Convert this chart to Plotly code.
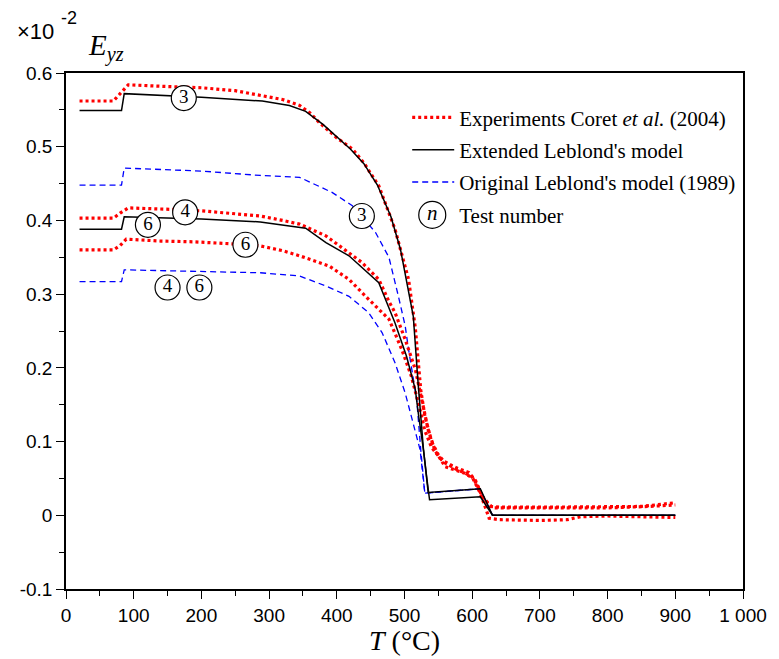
import plotly.graph_objects as go

# ---------------- data ----------------
T_exp3 = [20, 70, 80, 92, 140, 200, 250, 287, 320, 345, 360, 374, 400, 423, 440, 462, 486, 506, 516, 524, 530,
          540, 550, 560, 575, 590, 600, 608, 618, 628, 640, 700, 760, 800, 850, 880, 900]
E_exp3 = [0.562, 0.562, 0.572, 0.584, 0.582, 0.580, 0.576, 0.570, 0.564, 0.556, 0.546, 0.533, 0.512, 0.497,
          0.478, 0.447, 0.388, 0.320, 0.254, 0.170, 0.135, 0.100, 0.082, 0.071, 0.063, 0.057, 0.052, 0.040,
          0.020, 0.012, 0.011, 0.011, 0.011, 0.011, 0.012, 0.015, 0.017]

T_exp4 = [20, 70, 80, 92, 155, 200, 250, 287, 320, 345, 384, 423, 437, 462, 477, 486, 501, 516, 525, 535,
          545, 560, 589, 601, 612, 625, 640, 700, 740, 760, 800, 900]
E_exp4 = [0.403, 0.403, 0.410, 0.417, 0.415, 0.413, 0.409, 0.406, 0.400, 0.395, 0.379, 0.352, 0.343, 0.320,
          0.290, 0.275, 0.2385, 0.198, 0.157, 0.116, 0.088, 0.066, 0.057, 0.050, 0.030, -0.004, -0.006,
          -0.007, -0.006, -0.002, -0.001, -0.003]

T_exp6 = [20, 70, 80, 89, 140, 189, 250, 287, 320, 345, 389, 418, 447, 477, 496, 510, 523, 530, 540, 555,
          575, 595, 605, 615, 630, 700, 800, 860, 900]
E_exp6 = [0.360, 0.360, 0.366, 0.3746, 0.372, 0.371, 0.368, 0.3655, 0.359, 0.352, 0.338, 0.320, 0.293,
          0.266, 0.225, 0.189, 0.143, 0.115, 0.092, 0.075, 0.065, 0.058, 0.047, 0.025, 0.010, 0.010, 0.010,
          0.012, 0.014]

T_mod3 = [20, 82, 86, 200, 290, 330, 354, 380, 420, 440, 460, 480, 494, 505, 513, 520, 528, 533, 537, 612, 630, 900]
E_mod3 = [0.549, 0.549, 0.572, 0.567, 0.562, 0.556, 0.548, 0.530, 0.497, 0.477, 0.448, 0.405, 0.361, 0.310,
          0.270, 0.180, 0.089, 0.050, 0.021, 0.025, 0.0, 0.0]

T_mod46 = [20, 82, 86, 200, 287, 354, 384, 418, 462, 486, 503, 516, 521, 528, 535, 612, 630, 900]
E_mod46 = [0.388, 0.388, 0.405, 0.402, 0.398, 0.3895, 0.370, 0.352, 0.3156, 0.261, 0.2158, 0.1705, 0.134,
           0.089, 0.031, 0.036, 0.0, 0.0]

T_orig3 = [20, 82, 86, 200, 287, 345, 393, 423, 457, 477, 491, 501, 506, 518, 524, 530, 611, 630, 900]
E_orig3 = [0.448, 0.448, 0.471, 0.467, 0.461, 0.4585, 0.438, 0.420, 0.384, 0.350, 0.297, 0.257, 0.225,
           0.157, 0.089, 0.030, 0.036, 0.0, 0.0]

T_orig46 = [20, 82, 86, 200, 287, 345, 384, 418, 447, 467, 486, 501, 513, 523, 530, 611, 630, 900]
E_orig46 = [0.317, 0.317, 0.333, 0.331, 0.329, 0.3246, 0.311, 0.297, 0.275, 0.2476, 0.2068, 0.166, 0.125,
            0.089, 0.030, 0.036, 0.0, 0.0]

label_T = [174, 437, 176, 121, 265, 150, 197]
label_E = [0.566, 0.406, 0.411, 0.394, 0.367, 0.309, 0.309]
label_text = ["3", "3", "4", "6", "6", "4", "6"]

x_tickvals = [0, 100, 200, 300, 400, 500, 600, 700, 800, 900, 1000]
x_ticktext = ["0", "100", "200", "300", "400", "500", "600", "700", "800", "900", "1 000"]
y_tickvals = [-0.1, 0, 0.1, 0.2, 0.3, 0.4, 0.5, 0.6]
y_ticktext = ["-0.1", "0", "0.1", "0.2", "0.3", "0.4", "0.5", "0.6"]

SERIF = "Liberation Serif"
SANS = "Liberation Sans"
RED = "#ff0000"
BLUE = "#0000ff"

fig = go.Figure()

exp_style = dict(color=RED, width=3.2, dash="3px,3px")
mod_style = dict(color="black", width=1.5)
orig_style = dict(color=BLUE, width=1.3, dash="6px,4px")

# original Leblond (blue dashed)
fig.add_trace(go.Scatter(x=T_orig46, y=E_orig46, mode="lines", line=orig_style, showlegend=False, hoverinfo="skip"))
fig.add_trace(go.Scatter(x=T_orig3, y=E_orig3, mode="lines", line=orig_style, showlegend=False, hoverinfo="skip"))
# experiments (red dotted)
fig.add_trace(go.Scatter(x=T_exp6, y=E_exp6, mode="lines", line=exp_style, showlegend=False, hoverinfo="skip"))
fig.add_trace(go.Scatter(x=T_exp4, y=E_exp4, mode="lines", line=exp_style, showlegend=False, hoverinfo="skip"))
fig.add_trace(go.Scatter(x=T_exp3, y=E_exp3, mode="lines", line=exp_style, legendgroup="g1",
                         name="Experiments Coret <i>et al.</i> (2004)", legendrank=1))
# extended Leblond (black)
fig.add_trace(go.Scatter(x=T_mod46, y=E_mod46, mode="lines", line=mod_style, showlegend=False, hoverinfo="skip"))
fig.add_trace(go.Scatter(x=T_mod3, y=E_mod3, mode="lines", line=mod_style, legendgroup="g2",
                         name="Extended Leblond's model", legendrank=2))
# legend entry for original
fig.add_trace(go.Scatter(x=[None], y=[None], mode="lines", line=orig_style, legendgroup="g3",
                         name="Original Leblond's model (1989)", legendrank=3))
# test number labels
fig.add_trace(go.Scatter(x=label_T, y=label_E, mode="markers+text", text=label_text,
                         textposition="middle center",
                         textfont=dict(family=SERIF, size=19, color="black"),
                         marker=dict(symbol="circle", size=25, color="white",
                                     line=dict(color="black", width=1.2)),
                         showlegend=False, hoverinfo="skip"))
# legend entry "Test number" (its key is drawn on an overlay axis in plot-fraction units)
fig.add_trace(go.Scatter(x=[None], y=[None], mode="markers", legendgroup="g4",
                         marker=dict(size=1, color="rgba(0,0,0,0)"),
                         name="Test number", legendrank=4))
fig.add_trace(go.Scatter(x=[0.541], y=[0.725], xaxis="x2", yaxis="y2", mode="markers+text",
                         text=["<i>n</i>"], textposition="middle center",
                         textfont=dict(family=SERIF, size=21, color="black"),
                         marker=dict(symbol="circle", size=27, color="white",
                                     line=dict(color="black", width=1.2)),
                         showlegend=False, hoverinfo="skip"))

fig.update_layout(
    width=771, height=651,
    margin=dict(l=56, r=31, t=65, b=70),
    paper_bgcolor="white", plot_bgcolor="white",
    showlegend=True,
    legend=dict(x=0.504, y=0.953, xanchor="left", yanchor="top",
                font=dict(family=SERIF, size=21, color="black"),
                bgcolor="rgba(0,0,0,0)", traceorder="grouped", tracegroupgap=2,
                itemwidth=42),
    xaxis=dict(range=[0, 1000], tickvals=x_tickvals, ticktext=x_ticktext,
               ticks="outside", ticklen=8, tickwidth=1.3, tickcolor="black",
               showline=True, linecolor="black", linewidth=1.5, mirror=True,
               showgrid=False, zeroline=False,
               tickfont=dict(family=SANS, size=19, color="black"),
               minor=dict(ticks="outside", ticklen=5, tickwidth=1.2, tickcolor="black", dtick=50)),
    yaxis=dict(range=[-0.1, 0.6], tickvals=y_tickvals, ticktext=y_ticktext,
               ticks="outside", ticklen=8, tickwidth=1.3, tickcolor="black",
               showline=True, linecolor="black", linewidth=1.5, mirror=True,
               showgrid=False, zeroline=False,
               tickfont=dict(family=SANS, size=19, color="black"),
               minor=dict(ticks="outside", ticklen=5, tickwidth=1.2, tickcolor="black", dtick=0.05)),
    xaxis2=dict(domain=[0, 1], range=[0, 1], overlaying="x", visible=False, fixedrange=True),
    yaxis2=dict(domain=[0, 1], range=[0, 1], overlaying="y", visible=False, fixedrange=True),
    annotations=[
        dict(text="<i>T</i> (°C)", xref="paper", yref="paper", x=0.5, y=-0.099,
             xanchor="center", yanchor="middle", showarrow=False,
             font=dict(family=SERIF, size=28, color="black")),
        dict(text="×10", xref="paper", yref="paper", x=-0.0746, y=1.081,
             xanchor="left", yanchor="middle", showarrow=False,
             font=dict(family=SANS, size=22, color="black")),
        dict(text="-2", xref="paper", yref="paper", x=-0.0102, y=1.107,
             xanchor="left", yanchor="middle", showarrow=False,
             font=dict(family=SANS, size=18, color="black")),
        dict(text="<i>E</i><sub><i>yz</i></sub>", xref="paper", yref="paper", x=0.029, y=1.05,
             xanchor="left", yanchor="middle", showarrow=False,
             font=dict(family=SERIF, size=29, color="black")),
    ],
)

fig.write_html("out.html")
